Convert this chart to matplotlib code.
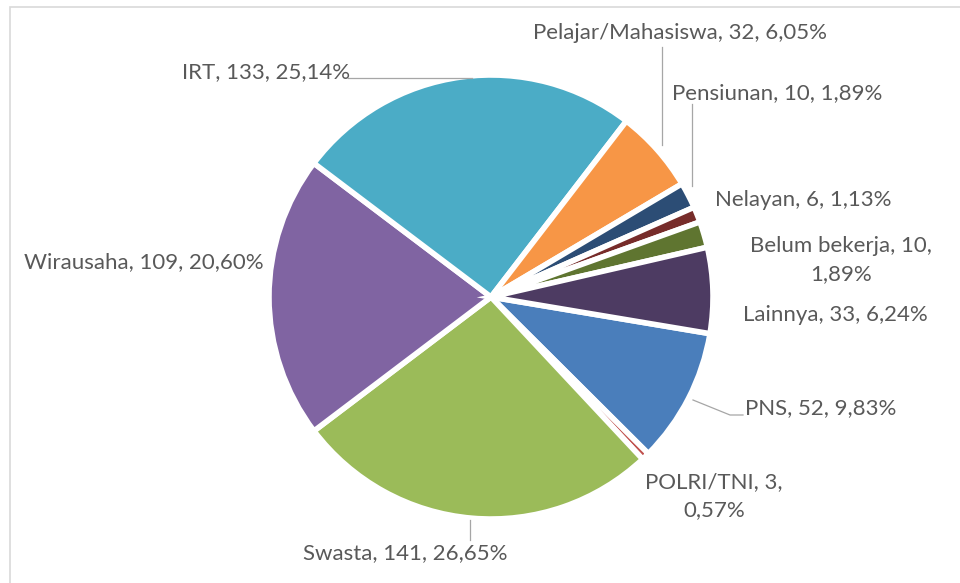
import matplotlib.pyplot as plt
from matplotlib.patches import Rectangle

# Jumlah responden per pekerjaan (urutan searah jarum jam)
labels = ["PNS", "POLRI/TNI", "Swasta", "Wirausaha", "IRT", "Pelajar/Mahasiswa",
          "Pensiunan", "Nelayan", "Belum bekerja", "Lainnya"]
counts = [52, 3, 141, 109, 133, 32, 10, 6, 10, 33]
colors = ["#4a7ebb", "#c0504d", "#9bbb59", "#8064a2", "#4bacc6", "#f79646",
          "#2c4d75", "#772c2a", "#5f7530", "#4d3b62"]

W, H = 960, 583
total = sum(counts)


def pct(n):
    return f"{n / total * 100:.2f}".replace(".", ",") + "%"


plt.rcParams["font.family"] = ["Lato", "DejaVu Sans"]

fig = plt.figure(figsize=(W / 100, H / 100), dpi=100)
ax = fig.add_axes([0, 0, 1, 1])

# pie in pixel coordinates (y measured from the bottom)
cx, cy, r = 491, H - 297, 222
ax.pie(counts, colors=colors, startangle=-9.5, counterclock=False,
       center=(cx, cy), radius=r,
       wedgeprops=dict(edgecolor="white", linewidth=4))
ax.set_xlim(0, W)
ax.set_ylim(0, H)
ax.set_aspect("equal")
ax.axis("off")

# chart area border
ax.add_patch(Rectangle((10, -20), W, H - 7 + 20, fill=False,
                       edgecolor="#d9d9d9", linewidth=1.2))

# label layout: x, y (from top), alignment, line break after the count
layout = {
    "PNS": (745, 408, "left", False),
    "POLRI/TNI": (714, 496, "center", True),
    "Swasta": (303, 553, "left", False),
    "Wirausaha": (24, 262, "left", False),
    "IRT": (182, 72, "left", False),
    "Pelajar/Mahasiswa": (533, 33, "left", False),
    "Pensiunan": (672, 93, "left", False),
    "Nelayan": (715, 200, "left", False),
    "Belum bekerja": (841, 260, "center", True),
    "Lainnya": (743, 315, "left", False),
}

for lab, n in zip(labels, counts):
    x, y, ha, wrap = layout[lab]
    sep = ",\n" if wrap else ", "
    txt = f"{lab}, {n}{sep}{pct(n)}"
    ax.text(x, H - y, txt, ha=ha, va="center", fontsize=16,
            color="#595959", linespacing=1.55, multialignment="center")

# leader lines
leaders = [
    [(662, 47), (662, 145)],
    [(692, 104), (692, 186)],
    [(348, 78), (472, 78)],
    [(470, 520), (470, 540)],
    [(693, 400), (730, 415), (743, 415)],
]
for pts in leaders:
    xs = [p[0] for p in pts]
    ys = [H - p[1] for p in pts]
    ax.plot(xs, ys, color="#a6a6a6", linewidth=0.9)

fig.savefig("out.png", dpi=100, facecolor="white")
